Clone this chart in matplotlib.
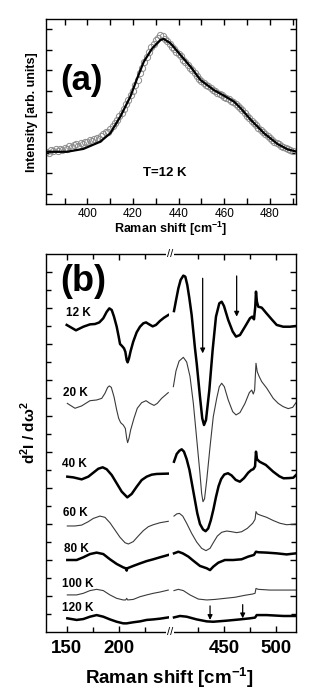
import numpy as np
import matplotlib
matplotlib.use("Agg")
import matplotlib.pyplot as plt
from matplotlib.ticker import MultipleLocator, FixedLocator

plt.rcParams['font.family'] = ['Liberation Sans', 'DejaVu Sans']
plt.rcParams['mathtext.fontset'] = 'custom'
plt.rcParams['mathtext.rm'] = 'Liberation Sans'
plt.rcParams['mathtext.bf'] = 'Liberation Sans:bold'

# ---- panel (a): Raman spectrum at 12 K (circles = data, line = fit)
raman_x = np.arange(382, 491)
raman_y = [2.55, 2.50, 2.62, 2.58, 2.66, 2.60, 2.70, 2.64, 2.74, 2.70,
           2.80, 2.76, 2.86, 2.90, 2.84, 2.98, 2.92, 3.04, 3.00, 3.10,
           3.06, 3.16, 3.22, 3.18, 3.32, 3.40, 3.52, 3.48, 3.66, 3.80,
           3.92, 4.10, 4.26, 4.45, 4.62, 4.85, 5.05, 5.30, 5.52, 5.78,
           6.05, 6.35, 6.62, 6.90, 7.15, 7.40, 7.62, 7.80, 7.96, 8.10,
           8.22, 8.15, 8.05, 7.92, 7.80, 7.66, 7.55, 7.40, 7.28, 7.18,
           7.02, 6.90, 6.78, 6.62, 6.50, 6.36, 6.22, 6.10, 6.00, 5.88,
           5.80, 5.72, 5.62, 5.56, 5.48, 5.42, 5.35, 5.30, 5.22, 5.16,
           5.10, 5.02, 4.94, 4.86, 4.76, 4.66, 4.55, 4.42, 4.30, 4.18,
           4.06, 3.95, 3.82, 3.70, 3.60, 3.50, 3.40, 3.30, 3.20, 3.12,
           3.04, 2.96, 2.90, 2.84, 2.78, 2.72, 2.68, 2.64, 2.60]
fit_x = [381.7, 390.9, 398.2, 405.6, 410.0, 414.4, 418.8, 421.8, 424.7, 428.4,
         432.0, 433.5, 436.4, 440.8, 445.2, 449.6, 455.5, 459.9, 464.3, 467.3,
         471.7, 477.5, 483.4, 487.8, 492.0]
fit_y = [2.54, 2.54, 2.68, 3.03, 3.44, 4.25, 5.22, 6.11, 6.92, 7.57,
         7.98, 8.03, 7.82, 7.25, 6.68, 6.03, 5.54, 5.27, 4.98, 4.65,
         4.09, 3.44, 2.92, 2.66, 2.54]

# ---- panel (b): second derivative spectra, offset; low- and high-frequency parts
temps = ['12 K', '20 K', '40 K', '60 K', '80 K', '100 K', '120 K']
label_x = [149.3, 146.2, 145.5, 146.4, 147.4, 145.5, 145.5]
label_y = [17.74, 13.29, 9.32, 6.61, 4.63, 2.68, 1.32]
thick = [True, False, True, False, True, False, True]

low_x = {
    '12 K': [150.0, 158.9, 166.0, 172.4, 177.2, 181.4, 185.2, 188.5, 191.0, 193.3, 195.5, 198.1, 200.0, 201.3, 203.2, 205.1, 206.4, 207.7, 208.6, 209.9, 211.5, 214.0, 217.3, 220.5, 223.7, 226.3, 229.4, 232.7, 235.9, 239.7, 243.6, 247.7],
    '20 K': [150.6, 158.0, 164.4, 172.4, 178.8, 183.7, 186.8, 189.4, 191.0, 192.9, 195.5, 198.1, 200.0, 201.9, 204.4, 206.4, 207.7, 208.6, 209.9, 211.5, 214.7, 217.9, 222.1, 226.3, 230.1, 234.0, 237.1, 241.3, 247.7],
    '40 K': [150.6, 156.4, 164.4, 170.8, 175.6, 180.4, 184.6, 188.5, 193.3, 198.1, 202.9, 208.3, 212.5, 217.3, 222.1, 226.9, 231.7, 236.5, 247.7],
    '60 K': [150.6, 158.0, 164.4, 170.8, 175.6, 182.0, 186.8, 191.6, 196.4, 201.3, 206.1, 209.3, 214.0, 218.8, 223.7, 228.5, 233.3, 239.7, 247.7],
    '80 K': [150.6, 159.6, 166.0, 172.4, 178.8, 185.2, 191.6, 198.1, 204.4, 206.7, 207.7, 208.3, 214.0, 220.5, 226.9, 233.3, 239.7, 247.7],
    '100 K': [150.6, 159.6, 166.0, 172.4, 178.8, 185.2, 191.6, 198.1, 204.4, 206.7, 207.7, 208.6, 214.0, 220.5, 226.9, 233.3, 239.7, 247.7],
    '120 K': [150.6, 159.6, 166.0, 172.4, 178.8, 185.2, 191.6, 198.1, 204.4, 207.7, 214.0, 220.5, 226.9, 233.3, 239.7, 247.7],
}
low_y = {
    '12 K': [17.06, 16.76, 16.96, 17.09, 17.11, 17.20, 17.43, 17.79, 17.98, 17.89, 17.52, 16.96, 16.41, 16.00, 15.89, 15.76, 15.57, 15.11, 14.98, 15.20, 15.61, 16.13, 16.65, 16.96, 17.15, 17.20, 17.09, 16.98, 17.06, 17.28, 17.46, 17.61],
    '20 K': [12.70, 12.43, 12.56, 12.85, 12.89, 12.98, 13.26, 13.59, 13.67, 13.59, 13.07, 12.33, 11.87, 11.63, 11.50, 11.31, 10.76, 10.52, 10.76, 11.22, 11.87, 12.43, 12.74, 12.85, 12.70, 12.59, 12.70, 12.98, 13.30],
    '40 K': [8.63, 8.59, 8.48, 8.63, 8.85, 9.07, 9.15, 9.04, 8.72, 8.26, 7.80, 7.48, 7.67, 8.07, 8.44, 8.63, 8.74, 8.78, 8.80],
    '60 K': [5.89, 5.89, 5.94, 6.13, 6.31, 6.44, 6.37, 6.07, 5.67, 5.26, 4.96, 4.89, 5.02, 5.33, 5.63, 5.85, 5.96, 6.07, 6.15],
    '80 K': [4.00, 4.00, 4.15, 4.33, 4.41, 4.33, 4.04, 3.78, 3.59, 3.54, 3.41, 3.54, 3.67, 3.81, 3.94, 4.04, 4.15, 4.28],
    '100 K': [2.06, 2.06, 2.15, 2.30, 2.37, 2.30, 2.06, 1.87, 1.78, 1.78, 1.87, 1.78, 1.81, 1.96, 2.06, 2.15, 2.22, 2.33],
    '120 K': [0.76, 0.67, 0.72, 0.85, 0.94, 0.85, 0.70, 0.57, 0.48, 0.48, 0.54, 0.59, 0.67, 0.70, 0.74, 0.81],
}
high_x = {
    '12 K': [401.6, 403.6, 405.8, 408.0, 410.6, 412.5, 414.4, 416.4, 418.6, 420.2, 421.8, 423.5, 426.6, 428.8, 430.5, 432.4, 435.6, 438.8, 442.0, 445.2, 447.5, 449.7, 453.8, 458.1, 461.3, 465.1, 469.9, 474.7, 476.9, 478.6, 479.8, 480.5, 481.4, 482.7, 486.0, 490.8, 495.6, 500.4, 506.7, 513.2, 519.0],
    '20 K': [401.0, 403.5, 406.5, 410.6, 413.8, 417.0, 420.2, 423.5, 426.6, 428.2, 429.5, 431.0, 433.1, 436.3, 439.4, 442.7, 445.2, 447.5, 450.0, 453.8, 458.1, 461.3, 465.1, 469.9, 474.1, 476.4, 477.9, 479.2, 480.5, 481.7, 483.6, 486.0, 490.8, 497.1, 501.9, 506.7, 511.5, 515.8, 519.0],
    '40 K': [401.6, 404.2, 406.8, 409.0, 411.2, 413.8, 416.5, 419.0, 421.5, 424.0, 426.6, 429.5, 432.0, 434.5, 437.0, 439.5, 442.0, 444.5, 447.0, 450.0, 453.5, 457.0, 461.0, 465.0, 469.0, 473.0, 476.0, 478.0, 479.6, 480.5, 481.5, 484.0, 490.0, 497.0, 503.0, 507.0, 512.0, 516.4, 519.0],
    '60 K': [401.6, 404.2, 406.8, 410.0, 413.8, 418.6, 423.4, 428.2, 432.4, 436.3, 439.4, 443.3, 447.5, 452.3, 457.1, 461.9, 466.7, 472.2, 477.3, 479.6, 480.5, 481.8, 484.3, 490.8, 497.2, 503.6, 510.0, 519.0],
    '80 K': [401.6, 405.8, 410.0, 415.4, 420.2, 426.6, 433.1, 436.3, 439.4, 444.2, 450.6, 458.6, 466.7, 473.1, 478.5, 480.5, 482.7, 490.8, 500.4, 510.0, 519.0],
    '100 K': [401.6, 405.8, 410.6, 417.0, 425.0, 433.1, 441.1, 450.6, 460.3, 469.9, 477.3, 479.6, 480.5, 482.7, 493.9, 506.7, 519.0],
    '120 K': [401.6, 407.4, 413.8, 423.4, 433.1, 439.4, 452.3, 465.1, 474.7, 479.6, 481.2, 490.8, 506.7, 519.0],
}
high_y = {
    '12 K': [17.83, 18.44, 19.09, 19.56, 19.80, 19.74, 19.28, 18.54, 17.61, 16.69, 15.76, 14.90, 13.07, 11.87, 11.50, 11.78, 13.44, 15.67, 17.52, 18.26, 18.35, 18.11, 17.33, 16.69, 16.41, 16.50, 16.96, 17.43, 17.52, 17.37, 18.07, 18.91, 18.35, 18.07, 18.02, 17.69, 17.37, 17.06, 16.96, 16.96, 17.00],
    '20 K': [13.63, 14.50, 15.05, 15.26, 15.00, 14.20, 12.72, 10.70, 8.80, 7.70, 7.24, 7.40, 8.44, 10.30, 11.96, 12.98, 13.63, 13.82, 13.63, 12.89, 12.24, 12.06, 12.19, 12.70, 13.30, 13.44, 13.22, 13.44, 14.93, 14.46, 14.19, 13.91, 13.55, 12.98, 12.70, 12.52, 12.41, 12.48, 12.74],
    '40 K': [9.46, 9.89, 10.07, 10.15, 10.02, 9.60, 9.00, 8.20, 7.40, 6.60, 6.00, 5.70, 5.60, 5.75, 6.20, 6.80, 7.50, 8.10, 8.50, 8.75, 8.82, 8.70, 8.45, 8.35, 8.55, 8.85, 9.00, 9.05, 9.20, 10.02, 9.60, 9.46, 9.28, 8.91, 8.65, 8.54, 8.55, 8.57, 8.72],
    '60 K': [6.44, 6.56, 6.59, 6.44, 6.04, 5.48, 5.00, 4.65, 4.52, 4.65, 4.96, 5.33, 5.54, 5.61, 5.57, 5.52, 5.57, 5.76, 6.04, 6.26, 6.69, 6.56, 6.50, 6.37, 6.19, 6.04, 5.96, 6.00],
    '80 K': [4.37, 4.46, 4.37, 4.19, 3.96, 3.67, 3.54, 3.44, 3.63, 3.85, 4.00, 4.00, 4.04, 4.19, 4.28, 4.46, 4.43, 4.41, 4.37, 4.31, 4.37],
    '100 K': [2.30, 2.37, 2.30, 2.06, 1.83, 1.78, 1.81, 1.87, 1.93, 2.04, 2.11, 2.15, 2.42, 2.37, 2.33, 2.33, 2.33],
    '120 K': [0.81, 0.89, 0.85, 0.70, 0.59, 0.57, 0.63, 0.70, 0.76, 0.80, 0.94, 0.94, 0.89, 0.89],
}
left_ticks = [150, 200]
right_ticks = [450, 500]
# arrows: (x, y_start, y_end)
arrows = [(429.2, 19.65, 15.48), (461.9, 19.78, 17.52), (436.3, 1.45, 0.67), (467.7, 1.52, 0.76)]

W, H = 313, 699
fig = plt.figure(figsize=(W / 100, H / 100), dpi=100)

# ---------------- (a)
axa = fig.add_axes([46 / W, (H - 204) / H, 250 / W, 185 / H])
axa.plot(raman_x, raman_y, 'o', ms=4.5, mfc='none', mec='#8c8c8c', mew=0.7)
axa.plot(fit_x, fit_y, '-', color='black', lw=1.6)
axa.set_xlim(381.8, 491.5)
axa.set_ylim(0, 9)
axa.xaxis.set_major_locator(MultipleLocator(20))
axa.xaxis.set_minor_locator(MultipleLocator(10))
axa.yaxis.set_major_locator(FixedLocator(np.arange(0.5, 9, 1)))
axa.set_yticklabels([])
axa.tick_params(which='both', direction='in', top=True, right=True, labelsize=8.5, pad=3, width=1, length=4)
for s in axa.spines.values():
    s.set_linewidth(1.0)
axa.text(0.056, 0.665, '(a)', transform=axa.transAxes, fontsize=25, fontweight='bold',
         ha='left', va='center')
axa.text(0.476, 0.168, 'T=12 K', transform=axa.transAxes, fontsize=9.5, fontweight='bold',
         ha='center', va='center')
fig.text(171 / W, 1 - 229 / H, r'Raman shift [cm$^{\mathbf{-1}}$]', fontsize=9, fontweight='bold',
         ha='center', va='center')
fig.text(32 / W, 1 - 112 / H, 'Intensity [arb. units]', fontsize=9, fontweight='bold',
         rotation=90, ha='center', va='center')

# ---------------- (b)
axl = fig.add_axes([46 / W, 67 / H, 123 / W, 378 / H])
axr = fig.add_axes([169 / W, 67 / H, 127 / W, 378 / H])
for t, th in zip(temps, thick):
    lw = 1.8 if th else 0.8
    c = 'black' if th else '#3a3a3a'
    axl.plot(low_x[t], low_y[t], '-', color=c, lw=lw, solid_joinstyle='round')
    axr.plot(high_x[t], high_y[t], '-', color=c, lw=lw, solid_joinstyle='round')
for t, lx, ly in zip(temps, label_x, label_y):
    axl.text(lx, ly, t, fontsize=8.5, fontweight='bold', ha='left', va='center')
for x, y0, y1 in arrows:
    axr.annotate('', xy=(x, y1), xytext=(x, y0),
                 arrowprops=dict(arrowstyle='-|>', color='black', lw=0.9, mutation_scale=7,
                                 shrinkA=0, shrinkB=0))

axl.set_xlim(130.1, 248.4)
axr.set_xlim(396.8, 519)
axl.set_xticks(left_ticks, labels=[str(v) for v in left_ticks], fontweight='bold', fontsize=13.5)
axl.set_xticks([175, 225], minor=True)
axr.set_xticks(right_ticks, labels=[str(v) for v in right_ticks], fontweight='bold', fontsize=13.5)
axr.set_xticks([425, 475], minor=True)
for ax in (axl, axr):
    ax.set_ylim(0, 21)
    ax.set_yticks(np.arange(2, 21, 2), labels=[])
    ax.set_yticks(np.arange(1, 21, 2), minor=True)
    ax.tick_params(which='both', direction='in', top=True, width=1, pad=6)
    ax.tick_params(which='major', length=4)
    ax.tick_params(which='minor', length=3.5)
    for s in ax.spines.values():
        s.set_linewidth(1.0)
axl.tick_params(which='both', left=True, right=False)
axr.tick_params(which='both', left=False, right=True)
axl.spines['right'].set_visible(False)
axr.spines['left'].set_visible(False)
axl.text(0.114, 0.926, '(b)', transform=axl.transAxes, fontsize=26, fontweight='bold',
         ha='left', va='center')

for yy in (254, 632):
    fig.text(170 / W, 1 - yy / H, '//', fontsize=8, ha='center', va='center',
             bbox=dict(facecolor='white', edgecolor='none', pad=0.3))

fig.text(169.5 / W, 1 - 678 / H, r'Raman shift [cm$^{\mathbf{-1}}$]', fontsize=13.5,
         fontweight='bold', ha='center', va='center')
fig.text(28 / W, 1 - 433 / H, r'd$^{\mathbf{2}}$I / d$\mathbf{\omega}^{\mathbf{2}}$', fontsize=11,
         fontweight='bold', rotation=90, ha='center', va='center')

fig.savefig('out.png', dpi=100, facecolor='white')
